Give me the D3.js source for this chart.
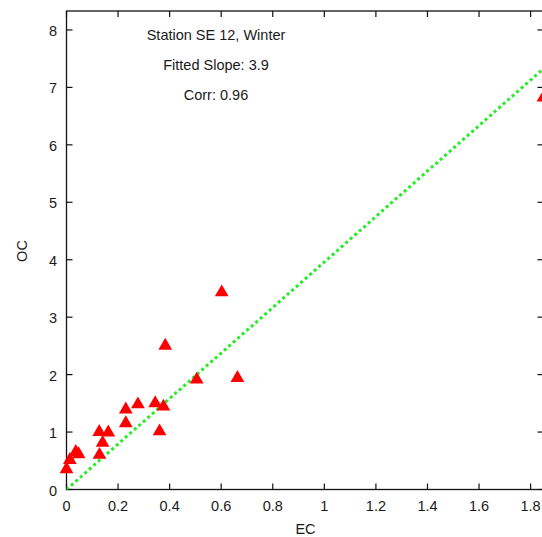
<!DOCTYPE html>
<html>
<head>
<meta charset="utf-8">
<script src="https://cdn.jsdelivr.net/npm/d3@7"></script>
<style>
  html, body { margin: 0; padding: 0; background: #fff; }
  svg { display: block; }
  text { font-family: "Liberation Sans", Arial, sans-serif; fill: #1a1a1a; }
</style>
</head>
<body>
<svg id="chart" width="542" height="537"></svg>
<script>
// EC / OC pairs
const ecValues = [0.00, 0.013, 0.036, 0.047, 0.127, 0.162, 0.140, 0.128, 0.230, 0.230,
                  0.277, 0.344, 0.376, 0.361, 0.383, 0.505, 0.663, 0.602, 1.850];
const ocValues = [0.37, 0.53, 0.67, 0.63, 1.02, 1.01, 0.83, 0.62, 1.41, 1.17,
                  1.50, 1.52, 1.46, 1.03, 2.52, 1.93, 1.96, 3.45, 6.84];

const xTicks = [0, 0.2, 0.4, 0.6, 0.8, 1, 1.2, 1.4, 1.6, 1.8];
const yTicks = [0, 1, 2, 3, 4, 5, 6, 7, 8];

const fitSlope = 3.96;   // drawn line (label says 3.9)
const notes = ["Station SE 12, Winter", "Fitted Slope: 3.9", "Corr: 0.96"];

const svg = d3.select("#chart");
const pLeft = 66.5, pRight = 543.5, pTop = 11, pBottom = 489.5;

const x = d3.scaleLinear().domain([0, 1.85]).range([pLeft, pRight]);
const y = d3.scaleLinear().domain([0, 8.33]).range([pBottom, pTop]);

const tickLen = 6;
const fs = 14.5;

// frame
svg.append("rect")
    .attr("x", pLeft).attr("y", pTop)
    .attr("width", pRight - pLeft).attr("height", pBottom - pTop)
    .attr("fill", "none").attr("stroke", "#111").attr("stroke-width", 1.3);

// x ticks, bottom and mirrored top
const xt = svg.append("g");
xTicks.forEach(t => {
    xt.append("line").attr("x1", x(t)).attr("x2", x(t))
        .attr("y1", pBottom).attr("y2", pBottom - tickLen)
        .attr("stroke", "#111").attr("stroke-width", 1.2);
    xt.append("line").attr("x1", x(t)).attr("x2", x(t))
        .attr("y1", pTop).attr("y2", pTop + tickLen)
        .attr("stroke", "#111").attr("stroke-width", 1.2);
    xt.append("text").attr("x", x(t)).attr("y", 510.5)
        .attr("text-anchor", "middle").attr("font-size", fs)
        .text(t);
});

// y ticks, left and mirrored right
const yt = svg.append("g");
yTicks.forEach(t => {
    yt.append("line").attr("x1", pLeft).attr("x2", pLeft + tickLen)
        .attr("y1", y(t)).attr("y2", y(t))
        .attr("stroke", "#111").attr("stroke-width", 1.2);
    yt.append("line").attr("x1", pRight).attr("x2", pRight - tickLen)
        .attr("y1", y(t)).attr("y2", y(t))
        .attr("stroke", "#111").attr("stroke-width", 1.2);
    yt.append("text").attr("x", 57).attr("y", y(t) + 6)
        .attr("text-anchor", "end").attr("font-size", fs)
        .text(t);
});

// axis titles
svg.append("text").attr("x", 305.5).attr("y", 534)
    .attr("text-anchor", "middle").attr("font-size", fs).text("EC");
svg.append("text")
    .attr("transform", "translate(27,251) rotate(-90)")
    .attr("text-anchor", "middle").attr("font-size", fs).text("OC");

// clip to plot area
svg.append("clipPath").attr("id", "plot")
    .append("rect").attr("x", pLeft).attr("y", pTop)
    .attr("width", pRight - pLeft).attr("height", pBottom - pTop);

const plot = svg.append("g").attr("clip-path", "url(#plot)");

// fitted line
plot.append("line")
    .attr("x1", x(0)).attr("y1", y(0))
    .attr("x2", x(1.85)).attr("y2", y(1.85 * fitSlope))
    .attr("stroke", "#22ee22").attr("stroke-width", 3)
    .attr("stroke-dasharray", "3,3");

// points (not clipped: the one at EC=0 pokes over the left axis)
const tri = d3.symbol().type(d3.symbolTriangle).size(82);
svg.append("g").selectAll("path.pt")
    .data(ecValues.map((e, i) => [e, ocValues[i]]))
    .join("path")
    .attr("class", "pt")
    .attr("d", tri)
    .attr("transform", d => `translate(${x(d[0])},${y(d[1]) + 1})`)
    .attr("fill", "#ff0000");

// notes
notes.forEach((n, i) => {
    svg.append("text").attr("x", 216).attr("y", 39.5 + i * 30.3)
        .attr("text-anchor", "middle").attr("font-size", fs).text(n);
});
</script>
</body>
</html>
